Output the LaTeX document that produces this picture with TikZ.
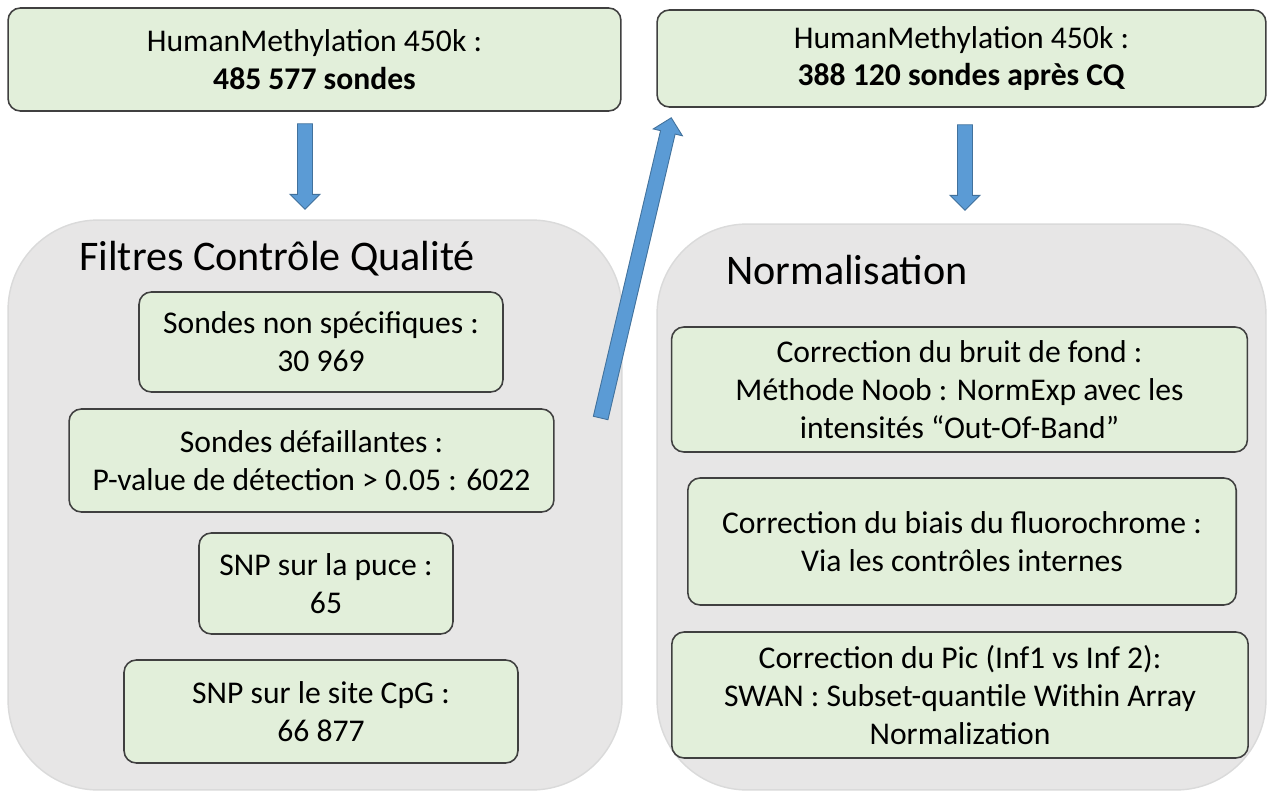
\documentclass[tikz,border=0pt]{standalone}
\usepackage{fontspec}
\setmainfont{Carlito}
\usetikzlibrary{calc}

\definecolor{boxgreen}{HTML}{E2EFDA}
\definecolor{boxline}{HTML}{404040}
\definecolor{panelgray}{HTML}{E7E6E6}
\definecolor{panelline}{HTML}{DADADA}
\definecolor{arrowblue}{HTML}{5B9BD5}
\definecolor{arrowline}{HTML}{41719C}

% fleche pleine de #1 vers #2
\newcommand{\blockarrow}[2]{%
  \coordinate (ahead) at ($(#2)!0.3cm!(#1)$);
  \path[fill=arrowblue, draw=arrowline, line width=0.5pt]
    ($(#1)!0.15cm!90:(#2)$) -- ($(ahead)!0.15cm!-90:(#1)$)
    -- ($(ahead)!0.3cm!-90:(#1)$) -- (#2)
    -- ($(ahead)!0.3cm!90:(#1)$) -- ($(ahead)!0.15cm!90:(#1)$)
    -- ($(#1)!0.15cm!-90:(#2)$) -- cycle;
}

\begin{document}
\begin{tikzpicture}[x=0.02cm, y=-0.02cm,
    every node/.style={font=\fontsize{18}{21.6}\selectfont, text=black},
    sonde/.style={draw=boxline, fill=boxgreen, line width=0.9pt, rounded corners=7pt, align=center, inner sep=0pt},
    panneau/.style={draw=panelline, fill=panelgray, line width=0.8pt, rounded corners=1.8cm, inner sep=0pt},
    titre/.style={font=\fontsize{24}{29}\selectfont, anchor=base west}]
	\path[use as bounding box, fill=white] (0,0) rectangle (1268,794);

	% Panneaux gris
	\node[panneau, minimum width=12.28cm, minimum height=11.4cm] (qc) at (315,505) {};
	\node[panneau, minimum width=12.18cm, minimum height=11.32cm] (norm) at (961.5,507) {};

	% Puce 450k avant / apres CQ
	\node[sonde, minimum width=12.26cm, minimum height=2.06cm] (hma) at (314.5,59.5) {HumanMethylation 450k :\\\textbf{485 577 sondes}};
	\node[sonde, minimum width=12.18cm, minimum height=1.94cm] (hmb) at (961.5,58.5) {HumanMethylation 450k :\\\textbf{388 120 sondes après CQ}};

	% Titres des panneaux
	\node[titre] (qctitre) at (73,270) {Filtres Contrôle Qualité};
	\node[titre] (normtitre) at (720,284) {Normalisation};

	% Filtres
	\node[sonde, minimum width=7.28cm, minimum height=2cm] (nonspec) at (321,342) {Sondes non spécifiques :\\30 969};
	\node[sonde, minimum width=9.7cm, minimum height=2.06cm] (defaill) at (311.5,460.5) {Sondes défaillantes :\\P-value de détection > 0.05 : 6022};
	\node[sonde, minimum width=5.08cm, minimum height=2.02cm] (snppuce) at (326,583.5) {SNP sur la puce :\\65};
	\node[sonde, minimum width=7.88cm, minimum height=2.06cm] (snpcpg) at (321,711.5) {SNP sur le site CpG :\\66 877};

	% Etapes de normalisation
	\node[sonde, minimum width=11.52cm, minimum height=2.5cm] (bruit) at (959.5,389.5) {Correction du bruit de fond :\\Méthode Noob : NormExp avec les\\intensités “Out-Of-Band”};
	\node[sonde, minimum width=10.97cm, minimum height=2.54cm] (fluo) at (962,541.5) {Correction du biais du fluorochrome :\\Via les contrôles internes};
	\node[sonde, minimum width=11.53cm, minimum height=2.52cm] (pic) at (960,695) {Correction du Pic (Inf1 vs Inf 2):\\SWAN : Subset-quantile Within Array\\Normalization};

	% Fleches
	\coordinate (a1) at ($(hma.south)+(-9.5,12)$);
	\coordinate (b1) at ($(qc.north)+(-10,-10)$);
	\coordinate (a2) at ($(qc.east)+(-22,-87)$);
	\coordinate (b2) at ($(hmb.south west)+(15,10)$);
	\coordinate (a3) at ($(hmb.south)+(3.5,17)$);
	\coordinate (b3) at ($(norm.north)+(3.5,-13)$);
	\blockarrow{a1}{b1}
	\blockarrow{a2}{b2}
	\blockarrow{a3}{b3}
\end{tikzpicture}
\end{document}
